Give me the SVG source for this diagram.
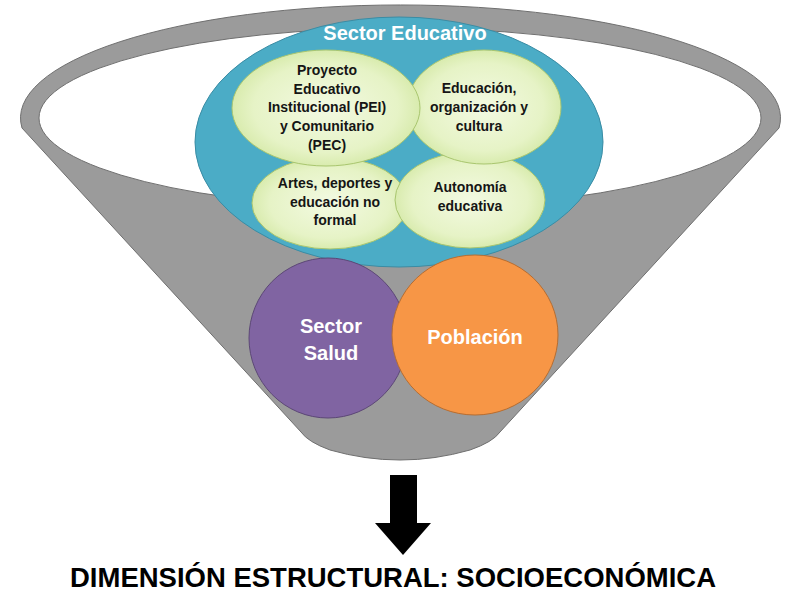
<svg xmlns="http://www.w3.org/2000/svg" width="788" height="592" viewBox="0 0 788 592">
<defs>
<radialGradient id="g" cx="50%" cy="50%" r="55%">
<stop offset="0%" stop-color="#f3fae2"/>
<stop offset="70%" stop-color="#e6f3c6"/>
<stop offset="100%" stop-color="#d3e8a4"/>
</radialGradient>
<style>
.funnel{fill:#9b9b9b;stroke:#6f6f6f;stroke-width:1}
.sub{fill:url(#g);stroke:#a9c66f;stroke-width:1}
.t{font-family:"Liberation Sans",Arial,sans-serif;font-weight:bold;text-anchor:middle}
.in{font-size:14px;fill:#151515}
.w{fill:#ffffff;font-size:20px}
</style>
</defs>
<rect width="788" height="592" fill="#ffffff"/>
<g id="funnel">
<path class="funnel" d="M22,128 A380,113 0 1 1 779,128 L500,432 Q493,442 470,450 Q400,470 330,450 Q308,442 301,432 Z"/>
<ellipse cx="400" cy="118" rx="361" ry="90" fill="#ffffff" stroke="#6f6f6f" stroke-width="1"/>
</g>
<g id="sector-educativo">
<ellipse cx="399" cy="142" rx="204" ry="125" fill="#4bacc6" stroke="#3a8ca4" stroke-width="1"/>
<text class="t w" x="405" y="40">Sector Educativo</text>
</g>
<g id="artes">
<ellipse class="sub" cx="330" cy="203" rx="78" ry="46"/>
<text class="t in" x="335" y="188">Artes, deportes y</text>
<text class="t in" x="335" y="207">educación no</text>
<text class="t in" x="335" y="225">formal</text>
</g>
<g id="autonomia">
<ellipse class="sub" cx="470" cy="200" rx="75" ry="48"/>
<text class="t in" x="470" y="192">Autonomía</text>
<text class="t in" x="470" y="211">educativa</text>
</g>
<g id="educacion">
<ellipse class="sub" cx="484" cy="107" rx="77" ry="57"/>
<text class="t in" x="479" y="93">Educación,</text>
<text class="t in" x="479" y="112">organización y</text>
<text class="t in" x="479" y="131">cultura</text>
</g>
<g id="pei">
<ellipse class="sub" cx="326" cy="108" rx="94" ry="58"/>
<text class="t in" x="327" y="75">Proyecto</text>
<text class="t in" x="327" y="94">Educativo</text>
<text class="t in" x="327" y="112">Institucional  (PEI)</text>
<text class="t in" x="327" y="131">y Comunitario</text>
<text class="t in" x="327" y="150">(PEC)</text>
</g>
<g id="salud">
<ellipse cx="328" cy="338" rx="79" ry="80" fill="#8064a2" stroke="#5c4776" stroke-width="1"/>
<text class="t w" x="331" y="333">Sector</text>
<text class="t w" x="331" y="360">Salud</text>
</g>
<g id="poblacion">
<ellipse cx="475" cy="335" rx="83" ry="80" fill="#f79646" stroke="#b66d31" stroke-width="1"/>
<text class="t w" x="475" y="344">Población</text>
</g>
<g id="connectors">
<path d="M390,475 L417,475 L417,523 L431,523 L403,555 L375,523 L390,523 Z" fill="#000000"/>
</g>
<g id="result">
<text class="t" x="393" y="587" font-size="28" fill="#000000" textLength="646" lengthAdjust="spacingAndGlyphs">DIMENSIÓN ESTRUCTURAL: SOCIOECONÓMICA</text>
</g>
</svg>
